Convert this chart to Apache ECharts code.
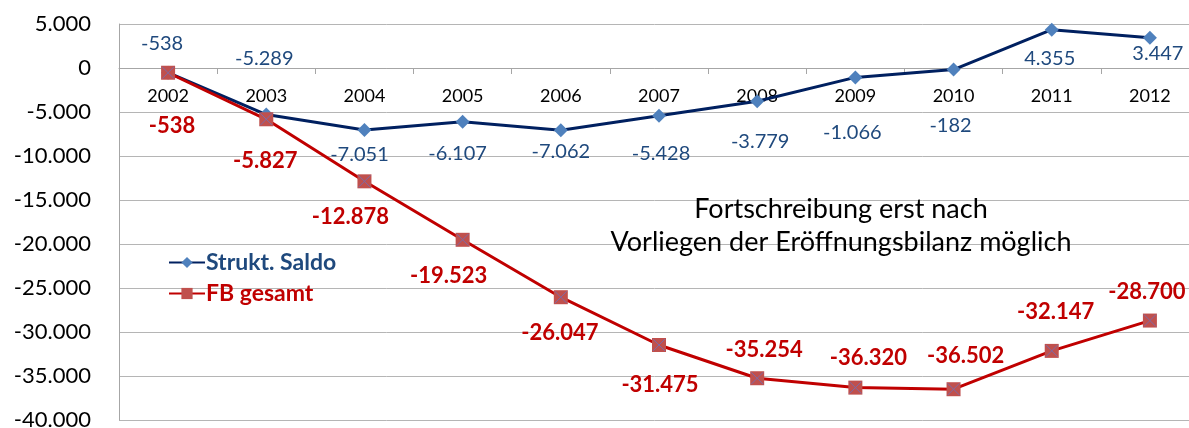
<!DOCTYPE html>
<html>
<head>
<meta charset="utf-8">
<script src="https://cdn.jsdelivr.net/npm/echarts@6/dist/echarts.min.js"></script>
<style>
  html, body { margin: 0; padding: 0; background: #fff; }
  #chart { width: 1189px; height: 428px; }
</style>
</head>
<body>
<div id="chart"></div>
<script>
// Daten
var jahre = ['2002', '2003', '2004', '2005', '2006', '2007', '2008', '2009', '2010', '2011', '2012'];
var struktSaldo = [-538, -5289, -7051, -6107, -7062, -5428, -3779, -1066, -182, 4355, 3447];
var fbGesamt = [-538, -5827, -12878, -19523, -26047, -31475, -35254, -36320, -36502, -32147, -28700];

// Label-Verschiebungen (wie im Original von Hand platziert)
var saldoOffsets = [[-6, -29], [-2, -56], [-5, 24], [-5, 32], [0, 21], [2, 38], [3, 40], [-3, 55], [-3, 56], [-2, 29], [8, 16]];
var fbOffsets = [[4, 53], [-1, 42], [-14, 36], [-14, 36], [-1, 36], [1, 40], [7, -28], [13, -30], [12, -33], [4, -39], [-3, -29]];

var schrift = 'Lato, "Noto Sans", sans-serif';

var yMin = -40000, yMax = 5000;
var gridTop = 24, gridHeight = 396;

function fmt(v) {
  var s = String(Math.abs(v)).replace(/\B(?=(\d{3})+(?!\d))/g, '.');
  return (v < 0 ? '-' : '') + s;
}

function mitLabels(werte, offsets) {
  return werte.map(function (v, i) {
    return { value: v, label: { offset: offsets[i] } };
  });
}

// x-Achse sitzt bei 0 (onZero greift hier nicht, daher per offset)
var nullOffset = -gridHeight * (0 - yMin) / (yMax - yMin);

var myChart = echarts.init(document.getElementById('chart'));

var option = {
  animation: false,
  textStyle: { fontFamily: schrift },
  grid: { left: 119, top: gridTop, width: 1080, height: gridHeight, outerBoundsMode: 'none', containLabel: false },
  legend: {
    orient: 'vertical',
    left: 163,
    top: 246,
    itemWidth: 36,
    itemHeight: 14,
    itemGap: 8,
    data: [
      { name: 'Strukt. Saldo', textStyle: { color: '#1F497D' } },
      { name: 'FB gesamt', textStyle: { color: '#C00000' } }
    ],
    textStyle: { fontSize: 23, fontWeight: 'bold', fontFamily: schrift, padding: [0, 0, 0, -4] }
  },
  xAxis: {
    type: 'category',
    data: jahre,
    position: 'bottom',
    offset: nullOffset,
    axisLine: { onZero: false, lineStyle: { color: '#a6a6a6', width: 1 } },
    axisTick: { show: true, length: 6, lineStyle: { color: '#a6a6a6' } },
    axisLabel: { color: '#000', fontSize: 18, margin: 19, fontFamily: schrift },
    splitLine: { show: false }
  },
  yAxis: {
    type: 'value',
    min: yMin,
    max: yMax,
    interval: 5000,
    axisLine: { show: true, lineStyle: { color: '#a6a6a6' } },
    axisTick: { show: false },
    axisLabel: { color: '#000', fontSize: 22, margin: 28, formatter: fmt, fontFamily: schrift },
    splitLine: { lineStyle: { color: '#b5b5b5', width: 1 } }
  },
  graphic: [{
    type: 'text',
    x: 841,
    y: 193,
    style: {
      text: 'Fortschreibung erst nach\nVorliegen der Eröffnungsbilanz möglich',
      textAlign: 'center',
      font: '27px ' + schrift,
      lineHeight: 33,
      fill: '#000'
    },
    z: 100
  }],
  series: [
    {
      name: 'Strukt. Saldo',
      type: 'line',
      data: mitLabels(struktSaldo, saldoOffsets),
      symbol: 'diamond',
      symbolSize: 14,
      lineStyle: { color: '#002060', width: 3 },
      itemStyle: { color: '#4F81BD' },
      label: {
        show: true,
        position: 'inside',
        color: '#1F497D',
        fontSize: 20,
        fontFamily: schrift,
        formatter: function (p) { return fmt(p.value); }
      },
      z: 3
    },
    {
      name: 'FB gesamt',
      type: 'line',
      data: mitLabels(fbGesamt, fbOffsets),
      symbol: 'rect',
      symbolSize: 14,
      lineStyle: { color: '#C00000', width: 3 },
      itemStyle: { color: '#C0504D' },
      label: {
        show: true,
        position: 'inside',
        color: '#C00000',
        fontSize: 22,
        fontWeight: 'bold',
        fontFamily: schrift,
        formatter: function (p) { return fmt(p.value); }
      },
      z: 4
    },
    {
      // Kreuz auf den Quadraten
      name: 'FB kreuz',
      type: 'line',
      data: fbGesamt,
      symbol: 'path://M0,0L10,10M10,0L0,10',
      symbolSize: 12,
      showSymbol: true,
      silent: true,
      lineStyle: { width: 0, opacity: 0 },
      itemStyle: { color: 'rgba(0,0,0,0)', borderColor: '#7E6AA6', borderWidth: 1 },
      z: 5
    }
  ]
};

myChart.setOption(option);
</script>
</body>
</html>
